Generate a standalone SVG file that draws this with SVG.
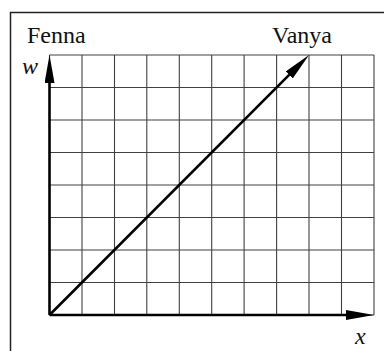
<svg xmlns="http://www.w3.org/2000/svg" width="384" height="351" viewBox="0 0 384 351">
<style>
.grid line{stroke:#404040;stroke-width:1.1}
.axis{stroke:#000;stroke-width:2.6;fill:none;marker-end:url(#ah)}
.lbl{font-family:"Liberation Serif","Times New Roman",serif;font-size:24px;fill:#111}
.var{font-family:"Liberation Serif","Times New Roman",serif;font-size:24px;font-style:italic;fill:#111}
</style>
<defs>
<marker id="ah" viewBox="0 0 28 10" refX="8" refY="5" markerWidth="28" markerHeight="10" markerUnits="userSpaceOnUse" orient="auto">
<path d="M0,0 L28,5 L0,10 z" fill="#000"/>
</marker>
</defs>
<rect width="384" height="351" fill="#fff"/>
<rect id="frame" x="10.5" y="12.5" width="390" height="360" fill="none" stroke="#222" stroke-width="1.5"/>
<g id="grid" class="grid">
<line x1="49.5" y1="55" x2="49.5" y2="315"/>
<line x1="82" y1="55" x2="82" y2="315"/>
<line x1="114.5" y1="55" x2="114.5" y2="315"/>
<line x1="146.8" y1="55" x2="146.8" y2="315"/>
<line x1="179.3" y1="55" x2="179.3" y2="315"/>
<line x1="211.7" y1="55" x2="211.7" y2="315"/>
<line x1="244.1" y1="55" x2="244.1" y2="315"/>
<line x1="276.6" y1="55" x2="276.6" y2="315"/>
<line x1="309" y1="55" x2="309" y2="315"/>
<line x1="341.5" y1="55" x2="341.5" y2="315"/>
<line x1="374" y1="55" x2="374" y2="315"/>
<line x1="49.5" y1="55" x2="374" y2="55"/>
<line x1="49.5" y1="87.5" x2="374" y2="87.5"/>
<line x1="49.5" y1="120" x2="374" y2="120"/>
<line x1="49.5" y1="152.5" x2="374" y2="152.5"/>
<line x1="49.5" y1="185" x2="374" y2="185"/>
<line x1="49.5" y1="217.5" x2="374" y2="217.5"/>
<line x1="49.5" y1="250" x2="374" y2="250"/>
<line x1="49.5" y1="282.5" x2="374" y2="282.5"/>
<line x1="49.5" y1="315" x2="374" y2="315"/>
</g>
<g id="connectors">
<line id="w-axis" class="axis" x1="49.5" y1="315" x2="49.5" y2="75"/>
<line id="x-axis" class="axis" x1="49.5" y1="315" x2="354" y2="315"/>
<line id="diagonal" class="axis" x1="49.5" y1="315" x2="294.9" y2="69.2"/>
</g>
<g id="labels">
<text id="fenna" class="lbl" x="27" y="42.5">Fenna</text>
<text id="vanya" class="lbl" x="272" y="42.5">Vanya</text>
<text id="w-label" class="var" x="22" y="74">w</text>
<text id="x-label" class="var" x="355" y="343.5">x</text>
</g>
</svg>
